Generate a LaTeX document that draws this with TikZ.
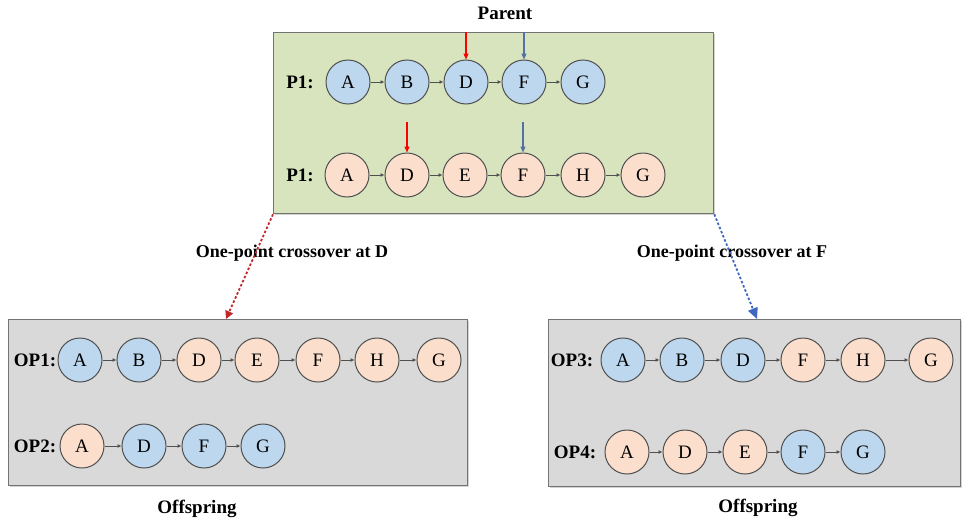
\documentclass[tikz,border=0pt]{standalone}
\usepackage{fontspec}
\setmainfont{Liberation Serif}
\usetikzlibrary{arrows.meta,shadows}
\definecolor{boxgreen}{HTML}{D7E4BD}
\definecolor{boxgray}{HTML}{D9D9D9}
\definecolor{cblue}{HTML}{BDD7EE}
\definecolor{cpeach}{HTML}{FBDFCC}
\definecolor{cborder}{HTML}{505050}
\definecolor{ptrblue}{HTML}{5470A8}
\definecolor{dred}{HTML}{C0282A}
\definecolor{dblue}{HTML}{4068C0}
\tikzset{
  circ/.style={circle, draw=cborder, line width=1pt, minimum size=44pt, inner sep=0pt,
    font=\fontsize{19}{19}\selectfont},
  bluec/.style={circ, fill=cblue},
  peachc/.style={circ, fill=cpeach},
  link/.style={draw=cborder, line width=0.9pt, -{Latex[length=4pt,width=4pt]}},
  rowlbl/.style={font=\fontsize{19}{19}\selectfont\bfseries},
  lbl/.style={font=\fontsize{18}{18}\selectfont\bfseries},
  title/.style={font=\fontsize{19}{19}\selectfont\bfseries},
  panel/.style={draw=black!55, line width=1.3pt, anchor=north west, inner sep=0pt,
    drop shadow={shadow xshift=1pt, shadow yshift=-1.5pt, opacity=0.35}},
  redptr/.style={draw=red, line width=1.2pt, -{Triangle[length=6pt,width=5pt]}},
  blueptr/.style={draw=ptrblue, line width=1.2pt, -{Triangle[length=6pt,width=5pt]}},
  reddash/.style={draw=dred, line width=1.8pt, dash pattern=on 2.5pt off 2pt, -{Triangle[length=8pt,width=8pt]}},
  bluedash/.style={draw=dblue, line width=1.8pt, dash pattern=on 2.5pt off 2pt, -{Triangle[length=11pt,width=10pt]}},
}
\begin{document}
\begin{tikzpicture}[x=1pt,y=-1pt]
\useasboundingbox (0,0) rectangle (964,525);
% panels
\node[panel, fill=boxgreen, minimum width=440pt, minimum height=181pt] (parent) at (273,32) {};
\node[panel, fill=boxgray, minimum width=459pt, minimum height=166pt] (left) at (8,319) {};
\node[panel, fill=boxgray, minimum width=412pt, minimum height=167pt] (right) at (548,319) {};
% titles
\node[title] (tparent) at (505,13) {Parent};
\node[title] (toffl) at (197,509) {Offspring};
\node[title] (toffr) at (758,508) {Offspring};
\node[lbl] (cxd) at (292,253) {One-point crossover at D};
\node[lbl] (cxf) at (732,253) {One-point crossover at F};
% parent rows
\node[rowlbl] (lp1) at (300,82) {P1:};
\node[bluec] (pa) at (348,82) {A};
\node[bluec] (pb) at (407,82) {B};
\node[bluec] (pd) at (466,82) {D};
\node[bluec] (pf) at (524,82) {F};
\node[bluec] (pg) at (583,82) {G};
\draw[link] (pa) -- (pb); \draw[link] (pb) -- (pd); \draw[link] (pd) -- (pf); \draw[link] (pf) -- (pg);
\node[rowlbl] (lp2) at (300,175) {P1:};
\node[peachc] (qa) at (347,175) {A};
\node[peachc] (qd) at (407,175) {D};
\node[peachc] (qe) at (465,175) {E};
\node[peachc] (qf) at (523,175) {F};
\node[peachc] (qh) at (583,175) {H};
\node[peachc] (qg) at (643,175) {G};
\draw[link] (qa) -- (qd); \draw[link] (qd) -- (qe); \draw[link] (qe) -- (qf); \draw[link] (qf) -- (qh); \draw[link] (qh) -- (qg);
% crossover pointers
\coordinate (r1) at (466,32); \coordinate (b1) at (524,32);
\coordinate (r2) at (407,122); \coordinate (b2) at (523,122);
\draw[redptr] (r1) -- (pd);
\draw[blueptr] (b1) -- (pf);
\draw[redptr] (r2) -- (qd);
\draw[blueptr] (b2) -- (qf);
% dashed connectors
\coordinate (ldst) at (226,319);
\coordinate (rdst) at (757,319);
\draw[reddash] (parent.south west) -- (ldst);
\draw[bluedash] (parent.south east) -- (rdst);
% OP1
\node[rowlbl] (lop1) at (35,360) {OP1:};
\node[bluec] (o1a) at (80,360) {A};
\node[bluec] (o1b) at (139,360) {B};
\node[peachc] (o1d) at (199,360) {D};
\node[peachc] (o1e) at (257,360) {E};
\node[peachc] (o1f) at (318,360) {F};
\node[peachc] (o1h) at (377,360) {H};
\node[peachc] (o1g) at (439,360) {G};
\draw[link] (o1a) -- (o1b); \draw[link] (o1b) -- (o1d); \draw[link] (o1d) -- (o1e);
\draw[link] (o1e) -- (o1f); \draw[link] (o1f) -- (o1h); \draw[link] (o1h) -- (o1g);
% OP2
\node[rowlbl] (lop2) at (35,446) {OP2:};
\node[peachc] (o2a) at (82,446) {A};
\node[bluec] (o2d) at (144,446) {D};
\node[bluec] (o2f) at (204,446) {F};
\node[bluec] (o2g) at (263,446) {G};
\draw[link] (o2a) -- (o2d); \draw[link] (o2d) -- (o2f); \draw[link] (o2f) -- (o2g);
% OP3
\node[rowlbl] (lop3) at (572,360) {OP3:};
\node[bluec] (o3a) at (623,360) {A};
\node[bluec] (o3b) at (682,360) {B};
\node[bluec] (o3d) at (743,360) {D};
\node[peachc] (o3f) at (803,360) {F};
\node[peachc] (o3h) at (863,360) {H};
\node[peachc] (o3g) at (931,360) {G};
\draw[link] (o3a) -- (o3b); \draw[link] (o3b) -- (o3d); \draw[link] (o3d) -- (o3f);
\draw[link] (o3f) -- (o3h); \draw[link] (o3h) -- (o3g);
% OP4
\node[rowlbl] (lop4) at (575,452) {OP4:};
\node[peachc] (o4a) at (627,452) {A};
\node[peachc] (o4d) at (685,452) {D};
\node[peachc] (o4e) at (745,452) {E};
\node[bluec] (o4f) at (803,452) {F};
\node[bluec] (o4g) at (863,452) {G};
\draw[link] (o4a) -- (o4d); \draw[link] (o4d) -- (o4e); \draw[link] (o4e) -- (o4f); \draw[link] (o4f) -- (o4g);
\end{tikzpicture}
\end{document}
